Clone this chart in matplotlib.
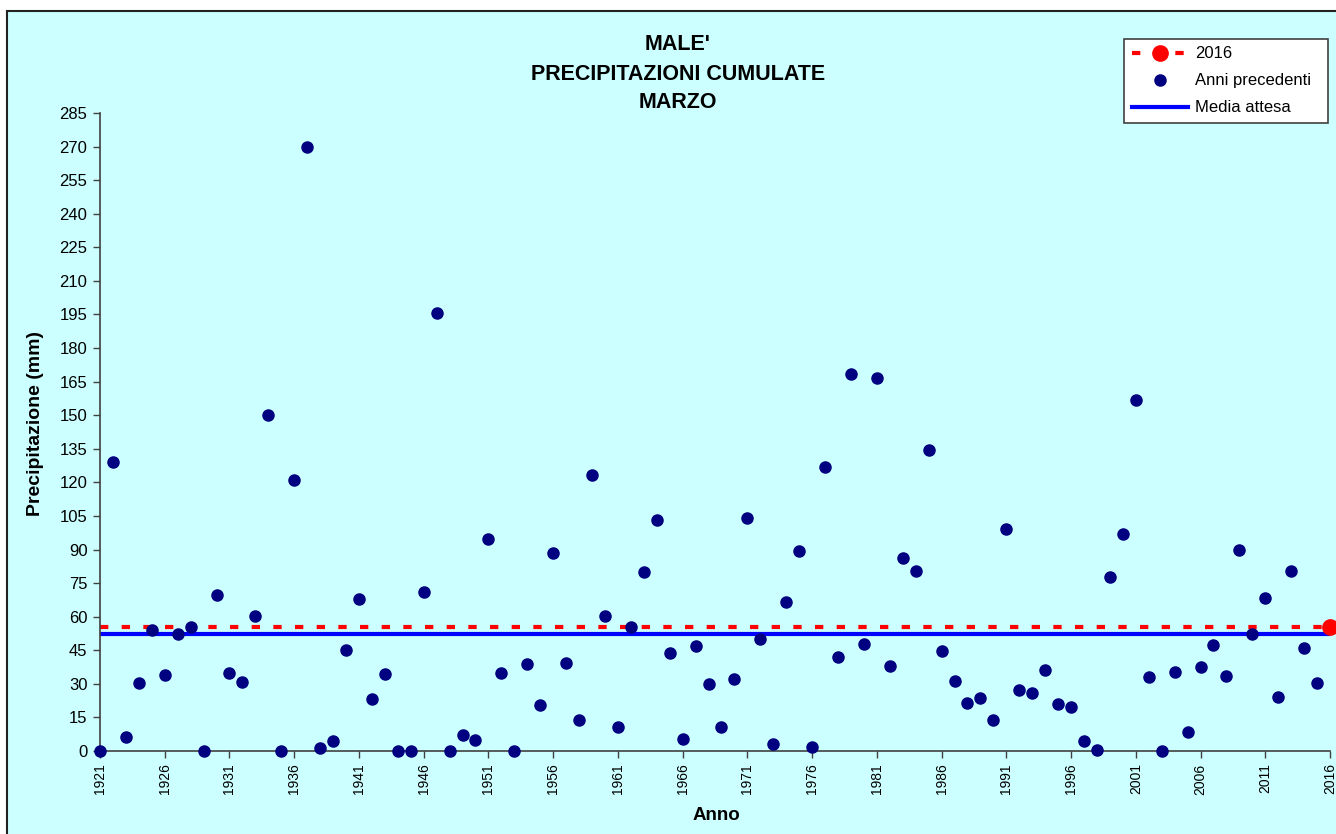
import matplotlib
matplotlib.use("Agg")
import matplotlib.pyplot as plt
from matplotlib.patches import Rectangle
from matplotlib.lines import Line2D

# March cumulative precipitation at Male', 1921-2015
years = list(range(1921, 2016))
precip = [
    0, 128.9, 6.2, 30.4, 54.0, 33.9, 52.3, 55.4, 0, 69.9,          # 1921-1930
    34.8, 31.0, 60.2, 149.9, 0, 121.0, 269.7, 1.2, 4.3, 44.9,      # 1931-1940
    68.0, 23.2, 34.3, 0, 0.2, 71.1, 195.7, 0, 7.2, 4.8,            # 1941-1950
    94.5, 35.0, 0, 38.7, 20.7, 88.3, 39.5, 13.9, 123.3, 60.4,      # 1951-1960
    10.8, 55.4, 80.0, 103.0, 43.6, 5.2, 47.0, 30.0, 10.5, 32.3,    # 1961-1970
    104.2, 50.0, 3.3, 66.6, 89.4, 1.7, 127.0, 42.0, 168.4, 47.8,   # 1971-1980
    166.5, 37.8, 86.4, 80.3, 134.6, 44.5, 31.4, 21.5, 23.8, 13.9,  # 1981-1990
    99.1, 27.1, 26.1, 36.2, 20.9, 19.6, 4.3, 0.5, 77.8, 97.0,      # 1991-2000
    157.0, 33.1, 0.2, 35.2, 8.5, 37.4, 47.4, 33.5, 89.8, 52.1,     # 2001-2010
    68.5, 24.2, 80.3, 45.9, 30.2,                                  # 2011-2015
]
current_year = 2016
current_value = 55.6
expected_mean = 52.3

yticks = list(range(0, 286, 15))
xticks = list(range(1921, 2017, 5))

W, H = 1336, 834
fig = plt.figure(figsize=(W / 100, H / 100), dpi=100)
plt.rcParams['font.family'] = ['Liberation Sans', 'DejaVu Sans']

# cyan chart area with border (extends past right/bottom edge like the original)
fig.patches.append(Rectangle((7 / W, -0.05), 1.1, (H - 11) / H + 0.05,
                             transform=fig.transFigure, facecolor='#CCFFFF',
                             edgecolor='#222222', linewidth=1.5, zorder=-10))

ax = fig.add_axes([100 / W, (H - 751) / H, 1230 / W, 638 / H])
ax.set_facecolor('none')
for s in ['top', 'right']:
    ax.spines[s].set_visible(False)
for s in ['left', 'bottom']:
    ax.spines[s].set_color('#404040')
    ax.spines[s].set_linewidth(1.2)

ax.set_xlim(1921, 2016)
ax.set_ylim(0, 285)
ax.set_yticks(yticks)
ax.set_xticks(xticks)
ax.set_xticklabels([str(x) for x in xticks], rotation=90)
ax.tick_params(axis='y', direction='out', length=5, width=1, color='#404040',
               labelsize=12, pad=4)
ax.tick_params(axis='x', direction='out', length=5, width=1, color='#404040',
               labelsize=10, pad=4)

# 2016 line and point
ax.plot([1921, current_year], [current_value, current_value], color='#FF0000',
        linewidth=3, dashes=(2, 3.2), zorder=2)
# expected mean
ax.plot([1921, current_year], [expected_mean, expected_mean], color='#0000FF',
        linewidth=3, zorder=2)
# previous years
ax.plot(years, precip, linestyle='none', marker='o', markersize=8,
        color='#000080', clip_on=False, zorder=3)
ax.plot([current_year], [current_value], linestyle='none', marker='o',
        markersize=11, color='#FF0000', clip_on=False, zorder=4)

# titles
fig.text(678 / W, 1 - 45 / H, "MALE'", ha='center', va='center',
         fontsize=15.5, fontweight='bold')
fig.text(678 / W, 1 - 75 / H, "PRECIPITAZIONI CUMULATE", ha='center',
         va='center', fontsize=15.5, fontweight='bold')
fig.text(678 / W, 1 - 103 / H, "MARZO", ha='center', va='center',
         fontsize=15.5, fontweight='bold')
fig.text(36 / W, 1 - 424 / H, "Precipitazione (mm)", ha='center', va='center',
         rotation=90, fontsize=14, fontweight='bold')
fig.text(716 / W, 1 - 815 / H, "Anno", ha='center', va='center',
         fontsize=13.5, fontweight='bold')

handles = [
    Line2D([], [], color='#FF0000', linewidth=3, dashes=(2, 3.2), marker='o',
           markersize=11, markerfacecolor='#FF0000', markeredgecolor='#FF0000'),
    Line2D([], [], linestyle='none', marker='o', markersize=8, color='#000080'),
    Line2D([], [], color='#0000FF', linewidth=3),
]
labels = ['2016', 'Anni precedenti', 'Media attesa']
leg = fig.legend(handles, labels, loc='upper left',
                 bbox_to_anchor=(1124 / W, 1 - 120 / H, 204 / W, 81 / H),
                 mode='expand', fontsize=12, frameon=True, fancybox=False,
                 borderpad=0.45, labelspacing=0.72, handlelength=3.4,
                 handletextpad=0.4, borderaxespad=0)
leg.get_frame().set_edgecolor('#404040')
leg.get_frame().set_linewidth(1.2)
leg.get_frame().set_facecolor('white')
leg.get_frame().set_alpha(1)

fig.savefig('out.png', dpi=100, facecolor='white')
